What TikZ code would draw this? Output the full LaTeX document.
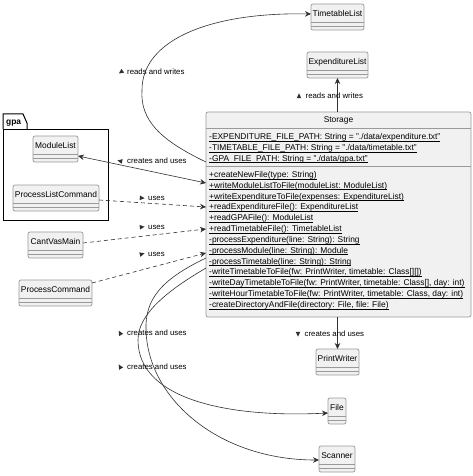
\documentclass[tikz,border=0pt]{standalone}
\usepackage{fontspec}
\setmainfont{Liberation Sans}
\usetikzlibrary{arrows.meta,calc}
\definecolor{boxfill}{HTML}{F1F1F1}
\definecolor{boxline}{HTML}{9A9A9A}
\definecolor{lnk}{HTML}{303030}
\newcommand\ulx[1]{\setbox0\hbox{#1}\rlap{\copy0}\rule[-1.7pt]{\wd0}{0.45pt}}
\tikzset{
  clsbox/.style={draw=boxline, fill=boxfill, line width=0.7pt, rounded corners=2pt, inner sep=0pt, outer sep=0pt},
  clsname/.style={font=\fontsize{8.4}{10}\selectfont, inner sep=0pt, anchor=base},
  mem/.style={font=\fontsize{8.4}{10}\selectfont, inner sep=0pt, anchor=base west},
  sepl/.style={draw=boxline, line width=0.6pt},
  tip/.style={Stealth[length=6pt,width=5.5pt,inset=2pt]},
  conn/.style={draw=lnk, line width=0.6pt, -{Stealth[length=6pt,width=5.5pt,inset=2pt]}},
  bconn/.style={draw=lnk, line width=0.6pt, {Stealth[length=6pt,width=5.5pt,inset=2pt]}-{Stealth[length=6pt,width=5.5pt,inset=2pt]}},
  dconn/.style={conn, dash pattern=on 4pt off 3pt},
  lbl/.style={font=\fontsize{7.8}{9}\selectfont, inner sep=0pt, anchor=base west},
  pkg/.style={draw=black, line width=1pt},
}
\newcommand\umlclass[5]{%
  \node[clsbox, anchor=north west, minimum width=#4, minimum height=26] (#1) at (#2,#3) {};
  \node[clsname] (#1-t) at ({#2+#4/2},{#3+12.5}) {#5};
  \draw[sepl] (#2,{#3+18}) -- ({#2+#4},{#3+18}) (#2,{#3+22}) -- ({#2+#4},{#3+22});
}
\newcommand\dirtri[3]{%
  \fill[lnk, shift={(#1,#2)}, rotate=#3] (2.6,0) -- (-2.2,2.3) -- (-2.2,-2.3) -- cycle;
}
\begin{document}
\begin{tikzpicture}[x=1pt,y=-1pt]
\useasboundingbox (0,0) rectangle (473,476);
\fill[white] (0,0) rectangle (473,476);

% package gpa
\draw[pkg] (3,129) -- (3,114) -- (23,114) -- (27,123) -- (27,129);
\draw[pkg] (3,129) rectangle (108,220);
\node[font=\fontsize{8.4}{10}\selectfont\bfseries, inner sep=0pt, anchor=base west] (gpa) at (6,124.5) {gpa};

% classes
\umlclass{tl}{311}{4}{53}{TimetableList}
\umlclass{el}{307}{52}{61}{ExpenditureList}
\umlclass{ml}{33}{136}{45}{ModuleList}
\umlclass{plc}{13}{185}{86}{ProcessListCommand}
\umlclass{cvm}{28}{232}{55}{CantVasMain}
\umlclass{pc}{19}{280}{73}{ProcessCommand}
\umlclass{pw}{316}{349}{43}{PrintWriter}
\umlclass{file}{328}{398}{18}{File}
\umlclass{sc}{319}{446}{36}{Scanner}

% Storage
\node[clsbox, anchor=north west, minimum width=265, minimum height=205] (storage) at (206,112) {};
\node[clsname] (storage-t) at (338.5,123) {Storage};
\draw[sepl] (206,128) -- (471,128) (206,166) -- (471,166);
\node[mem] (a1) at (209,139.5) {\ulx{-EXPENDITURE\_FILE\_PATH: String = "./data/expenditure.txt"}};
\node[mem] (a2) at (209,150.3) {\ulx{-TIMETABLE\_FILE\_PATH: String = "./data/timetable.txt"}};
\node[mem] (a3) at (209,161.1) {\ulx{-GPA\_FILE\_PATH: String = "./data/gpa.txt"}};
\node[mem] (m1) at (209,177.3) {\ulx{+createNewFile(type: String)}};
\node[mem] (m2) at (209,188.1) {\ulx{+writeModuleListToFile(moduleList: ModuleList)}};
\node[mem] (m3) at (209,199.0) {\ulx{+writeExpenditureToFile(expenses: ExpenditureList)}};
\node[mem] (m4) at (209,209.8) {\ulx{+readExpenditureFile(): ExpenditureList}};
\node[mem] (m5) at (209,220.6) {\ulx{+readGPAFile(): ModuleList}};
\node[mem] (m6) at (209,231.5) {\ulx{+readTimetableFile(): TimetableList}};
\node[mem] (m7) at (209,242.3) {\ulx{-processExpenditure(line: String): String}};
\node[mem] (m8) at (209,253.1) {\ulx{-processModule(line: String): Module}};
\node[mem] (m9) at (209,264.0) {\ulx{-processTimetable(line: String): String}};
\node[mem] (m10) at (209,274.8) {\ulx{-writeTimetableToFile(fw: PrintWriter, timetable: Class[][])}};
\node[mem] (m11) at (209,285.6) {\ulx{-writeDayTimetableToFile(fw: PrintWriter, timetable: Class[], day: int)}};
\node[mem] (m12) at (209,296.5) {\ulx{-writeHourTimetableToFile(fw: PrintWriter, timetable: Class, day: int)}};
\node[mem] (m13) at (209,307.3) {\ulx{-createDirectoryAndFile(directory: File, file: File)}};

% connectors
\draw[conn] ($(storage.north west)+(0,50)$) .. controls (160,140) and (140,120) .. (142,90)
  .. controls (142,40) and (210,12) .. ($(tl.north west)+(0,10)$);
\draw[conn] (storage.north -| el.south) -- (el.south);
\draw[bconn] ($(ml.north east)+(0,20)$) -- ($(storage.north west)+(0,71)$);
\draw[dconn] ($(plc.north east)+(0,15)$) -- ($(storage.north west)+(0,95)$);
\draw[dconn] ($(cvm.north east)+(0,11)$) -- ($(storage.north west)+(0,117)$);
\draw[dconn] ($(pc.north east)+(0,3)$) -- ($(storage.north west)+(0,141)$);
\draw[conn] (storage.south -| pw.north) -- (pw.north);
\draw[conn] ($(storage.north west)+(0,156)$) .. controls (165,292) and (138,315) .. (138,340)
  .. controls (138,400) and (230,418) .. ($(file.north west)+(0,15)$);
\draw[conn] ($(storage.north west)+(0,146)$) .. controls (160,280) and (145,300) .. (146,330)
  .. controls (148,400) and (220,460) .. ($(sc.north west)+(0,14)$);

% labels
\dirtri{121}{72}{215}
\node[lbl] (l1) at (127,74.6) {reads and writes};
\dirtri{299}{96}{90}
\node[lbl] (l2) at (305.5,98.6) {reads and writes};
\dirtri{120}{161}{168}
\node[lbl] (l3) at (127,163.6) {creates and uses};
\dirtri{142}{198}{-4}
\node[lbl] (l4) at (148,200.6) {uses};
\dirtri{142}{227}{6}
\node[lbl] (l5) at (148,229.6) {uses};
\dirtri{142}{254}{15}
\node[lbl] (l6) at (148,256.6) {uses};
\dirtri{120}{333}{120}
\node[lbl] (l7) at (127,335.6) {creates and uses};
\dirtri{120}{366.7}{120}
\node[lbl] (l8) at (127,369.3) {creates and uses};
\dirtri{298}{334}{-90}
\node[lbl] (l9) at (304.5,336.6) {creates and uses};
\end{tikzpicture}
\end{document}
